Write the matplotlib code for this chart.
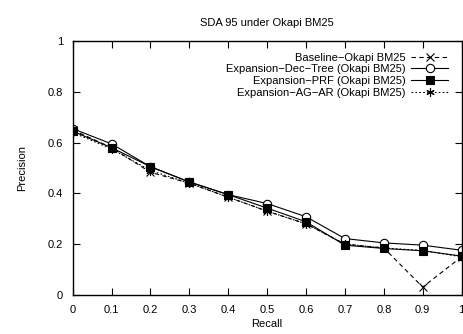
import matplotlib
matplotlib.use("Agg")
import matplotlib.pyplot as plt

plt.rcParams['font.family'] = ['Liberation Sans', 'DejaVu Sans']

recall = [0, 0.1, 0.2, 0.3, 0.4, 0.5, 0.6, 0.7, 0.8, 0.9, 1.0]
baseline = [0.65, 0.58, 0.483, 0.44, 0.385, 0.33, 0.28, 0.2, 0.185, 0.031, 0.15]
dec_tree = [0.655, 0.595, 0.505, 0.445, 0.395, 0.36, 0.308, 0.222, 0.205, 0.196, 0.176]
prf = [0.645, 0.58, 0.505, 0.445, 0.395, 0.342, 0.288, 0.196, 0.183, 0.174, 0.153]
ag_ar = [0.64, 0.575, 0.49, 0.44, 0.385, 0.33, 0.28, 0.2, 0.185, 0.175, 0.15]

labels = ["Baseline\u2212Okapi BM25",
          "Expansion\u2212Dec\u2212Tree (Okapi BM25)",
          "Expansion\u2212PRF (Okapi BM25)",
          "Expansion\u2212AG\u2212AR (Okapi BM25)"]
xticks = [0, 0.1, 0.2, 0.3, 0.4, 0.5, 0.6, 0.7, 0.8, 0.9, 1]
xticklabels = ["0", "0.1", "0.2", "0.3", "0.4", "0.5", "0.6", "0.7", "0.8", "0.9", "1"]
yticks = [0, 0.2, 0.4, 0.6, 0.8, 1]
yticklabels = ["0", "0.2", "0.4", "0.6", "0.8", "1"]

fig = plt.figure(figsize=(4.63, 3.34), dpi=100)
ax = fig.add_axes([0.157, 0.117, 0.84, 0.76])

ax.plot(recall, baseline, color='black', lw=0.8, ls=(0, (4, 3)), marker='x',
        ms=6, mew=0.8, label=labels[0])
ax.plot(recall, dec_tree, color='black', lw=0.8, ls='-', marker='o',
        ms=6, mfc='white', mew=0.8, label=labels[1])
ax.plot(recall, prf, color='black', lw=0.8, ls='-', marker='s',
        ms=6, mew=0.8, label=labels[2])
ax.plot(recall, ag_ar, color='black', lw=0.8, ls=(0, (1.5, 2)), marker=(6, 2, 0),
        ms=6, mew=0.8, label=labels[3])

ax.set_xlim(0, 1)
ax.set_ylim(0, 1)
ax.set_xticks(xticks)
ax.set_xticklabels(xticklabels)
ax.set_yticks(yticks)
ax.set_yticklabels(yticklabels)
ax.tick_params(direction='in', top=True, right=True, labelsize=8, length=5,
               width=0.8, pad=7)
for s in ax.spines.values():
    s.set_linewidth(1.0)

ax.set_xlabel("Recall", fontsize=8, labelpad=3)
ax.set_ylabel("Precision", fontsize=8, labelpad=15)
ax.set_title("SDA 95 under Okapi BM25", fontsize=8, pad=11)

ax.legend(loc='upper right', bbox_to_anchor=(0.985, 0.985), frameon=False,
          markerfirst=False, fontsize=8, handlelength=3.3, handletextpad=0.5,
          labelspacing=0.15, borderaxespad=0.3)

fig.savefig("out.png", dpi=100)
